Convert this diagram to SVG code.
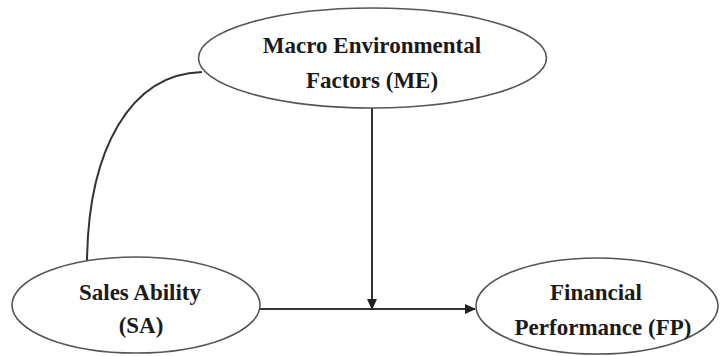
<svg xmlns="http://www.w3.org/2000/svg" width="721" height="356" viewBox="0 0 721 356">
<style>
.node ellipse{fill:#fff;stroke:#555;stroke-width:1.6}
.node text{font-family:'Liberation Serif','Times New Roman','DejaVu Serif',serif;font-weight:700;font-size:23px;fill:#1a1a1a;text-anchor:middle}
.conn{fill:none;stroke:#333;stroke-width:2}
</style>
<defs>
<marker id="ah" markerWidth="11" markerHeight="10" refX="10" refY="5" orient="auto" markerUnits="userSpaceOnUse">
<path d="M0,0 L11,5 L0,10 Z" fill="#222"/>
</marker>
</defs>
<rect width="721" height="356" fill="#fff"/>
<g id="connectors">
<path class="conn" d="M202,72 C130,74 88,150 87,262"/>
<line class="conn" x1="260" y1="309" x2="475" y2="309" marker-end="url(#ah)"/>
<line class="conn" x1="372" y1="108" x2="372" y2="309" marker-end="url(#ah)"/>
</g>
<g id="ME" class="node">
<ellipse cx="372.5" cy="58" rx="174" ry="50"/>
<text x="372" y="53">Macro Environmental</text>
<text x="372" y="88">Factors (ME)</text>
</g>
<g id="SA" class="node">
<ellipse cx="136" cy="305" rx="124" ry="48"/>
<text x="140" y="300">Sales Ability</text>
<text x="141" y="333">(SA)</text>
</g>
<g id="FP" class="node">
<ellipse cx="597" cy="306" rx="121" ry="48"/>
<text x="596" y="300">Financial</text>
<text x="603" y="335">Performance (FP)</text>
</g>
</svg>
